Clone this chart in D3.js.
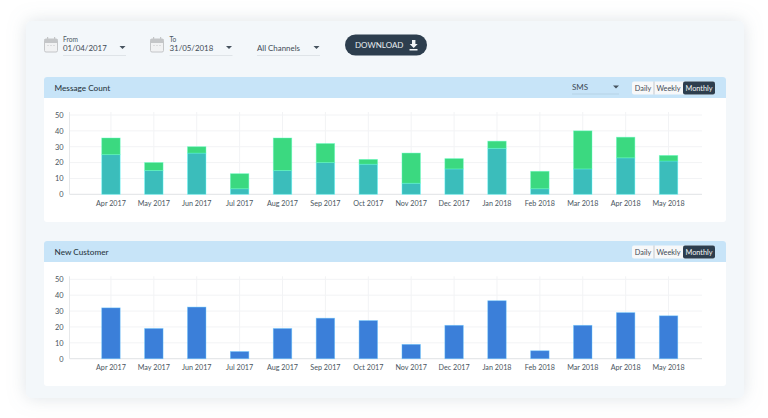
<html>
<head>
<meta charset="utf-8">
<script src="https://cdnjs.cloudflare.com/ajax/libs/d3/7.8.5/d3.min.js"></script>
<style>
  html, body { margin: 0; padding: 0; background: #fff; overflow: hidden; }
  text { font-family: Lato, sans-serif; }
</style>
</head>
<body>
<svg width="768" height="418"></svg>
<script>
const months = ['Apr 2017','May 2017','Jun 2017','Jul 2017','Aug 2017','Sep 2017','Oct 2017','Nov 2017','Dec 2017','Jan 2018','Feb 2018','Mar 2018','Apr 2018','May 2018'];
const messageBase = [25,15,26,3.5,15,20,19,7,16,29,3.5,16,23,21];
const messageTop = [10.5,5,4,9.5,20.5,12,3,19,6.5,4.5,11,24,13,3.5];
const newCustomers = [32,19,32.5,4.5,19,25.5,24,9,21,36.5,5,21,29,27];
const yTicks = [0,10,20,30,40,50];
const rangeLabels = ['Daily','Weekly','Monthly'];

const svg = d3.select('svg');

// card shadow
const defs = svg.append('defs');
const blur = defs.append('filter').attr('id','shadow')
  .attr('x','-10%').attr('y','-10%').attr('width','120%').attr('height','120%');
blur.append('feDropShadow').attr('dx',0).attr('dy',0).attr('stdDeviation',9)
  .attr('flood-color','#8a9aa8').attr('flood-opacity',0.28);

svg.append('rect').attr('x',26).attr('y',21).attr('width',718).attr('height',377).attr('rx',5)
  .attr('fill','#f3f7fa').attr('filter','url(#shadow)');

function calendar(x, y) {
  const g = svg.append('g').attr('transform', `translate(${x},${y})`);
  g.append('rect').attr('x',0.5).attr('y',2).attr('width',13).attr('height',13).attr('rx',1.5)
    .attr('fill','#f1f2f3').attr('stroke','#c4c6c8').attr('stroke-width',1);
  g.append('rect').attr('x',0.5).attr('y',2).attr('width',13).attr('height',4).attr('fill','#c4c6c8');
  g.selectAll('.peg').data([3,10]).join('rect').attr('x',d=>d).attr('y',0).attr('width',1.2).attr('height',3).attr('fill','#c4c6c8');
  g.selectAll('.dot').data([3.5,6.5,9.5]).join('rect').attr('x',d=>d).attr('y',8).attr('width',1).attr('height',1).attr('fill','#c4c6c8');
}

function dropdown(x, label, width, y) {
  svg.append('text').attr('x',x).attr('y',y).attr('font-size',7.9).attr('fill','#3f4a55').text(label);
  svg.append('path').attr('d',`M${x+width-6.5} ${y-5}h6l-3 3z`).attr('fill','#46525e');
  svg.append('line').attr('x1',x).attr('x2',x+width).attr('y1',y+4.5).attr('y2',y+4.5).attr('stroke','#dfe4e8');
}

calendar(44, 37);
svg.append('text').attr('x',63).attr('y',41.5).attr('font-size',6.6).attr('fill','#4a5560').text('From');
dropdown(63, '01/04/2017', 63, 51);
calendar(150, 37);
svg.append('text').attr('x',169.5).attr('y',41.5).attr('font-size',6.6).attr('fill','#4a5560').text('To');
dropdown(169.5, '31/05/2018', 63, 51);
dropdown(257, 'All Channels', 63, 51);

svg.append('rect').attr('x',345).attr('y',34.5).attr('width',82).attr('height',21).attr('rx',10.5).attr('fill','#2d3e4e');
svg.append('text').attr('x',355).attr('y',48).attr('font-size',8).attr('fill','#e8edf1').text('DOWNLOAD');
svg.append('path').attr('d','M412 40h3.4v4h2.3l-4 4-4-4h2.3zM409.5 49h8v1.5h-8z').attr('fill','#f2f5f7');

function rangeButtons(y) {
  const widths = [22, 29, 32], starts = [632, 654, 683];
  svg.append('rect').attr('x',632).attr('y',y).attr('width',83).attr('height',13).attr('rx',2).attr('fill','#f7f8f9');
  svg.append('rect').attr('x',683).attr('y',y).attr('width',32).attr('height',13).attr('rx',2).attr('fill','#2d3e4e');
  svg.append('line').attr('x1',654).attr('x2',654).attr('y1',y).attr('y2',y+13).attr('stroke','#aeb6bc').attr('stroke-width',0.7);
  svg.selectAll(null).data(rangeLabels).join('text')
    .attr('x',(d,i)=>starts[i]+widths[i]/2).attr('y',y+9.3)
    .attr('text-anchor','middle').attr('font-size',7.3)
    .attr('fill',(d,i)=>i==2?'#f2f5f7':'#3f4a55').text(d=>d);
}

function panel(top, bottom, title) {
  svg.append('rect').attr('x',44).attr('y',top).attr('width',682).attr('height',bottom-top).attr('rx',3).attr('fill','#fff');
  svg.append('path').attr('d',`M44 ${top+21}v-18a3 3 0 0 1 3 -3h676a3 3 0 0 1 3 3v18z`).attr('fill','#c7e4f8');
  svg.append('text').attr('x',54.5).attr('y',top+14).attr('font-size',8.2).attr('font-weight',500).attr('fill','#2b3843').text(title);
  rangeButtons(top+4.5);
}

const x = d3.scaleBand().domain(months).range([89.5,690]).paddingInner(0.57).paddingOuter(0.285);

function drawAxes(y) {
  const plot = svg.append('g');
  // horizontal grid
  plot.selectAll('.h').data(yTicks.filter(d=>d>0)).join('line')
    .attr('x1',69.5).attr('x2',702).attr('y1',d=>y(d)).attr('y2',d=>y(d)).attr('stroke','#f2f3f5');
  // vertical grid
  plot.selectAll('.v').data(months).join('line')
    .attr('x1',d=>x(d)+x.bandwidth()/2).attr('x2',d=>x(d)+x.bandwidth()/2)
    .attr('y1',y(50)-3).attr('y2',y(0)).attr('stroke','#f2f3f5');
  plot.append('line').attr('x1',69.5).attr('x2',69.5).attr('y1',y(50)-3).attr('y2',y(0)).attr('stroke','#e6e8ea');
  const bottom = svg.append('g').attr('transform',`translate(0,${y(0)})`)
    .call(d3.axisBottom(x).tickSize(0).tickPadding(6.2));
  bottom.select('.domain').remove();
  bottom.append('line').attr('x1',69.5).attr('x2',702).attr('stroke','#e6e8ea').attr('stroke-width',1.2);
  bottom.selectAll('text').attr('font-size',7.2).attr('fill','#4a5560').style('font-family','Lato, sans-serif');
  const left = svg.append('g').attr('transform','translate(69.5,0)')
    .call(d3.axisLeft(y).tickValues(yTicks).tickSize(0).tickPadding(6));
  left.select('.domain').remove();
  left.selectAll('text').attr('font-size',7.4).attr('fill','#4a5560').style('font-family','Lato, sans-serif');
}

function bars(values, base, y, color) {
  svg.append('g').selectAll('rect').data(values).join('rect')
    .attr('x',(d,i)=>x(months[i])).attr('width',x.bandwidth())
    .attr('y',(d,i)=>y(base[i]+d)).attr('height',d=>y(0)-y(d))
    .attr('fill',color).attr('stroke',d3.color(color).brighter(1.2)).attr('stroke-opacity',0.5).attr('stroke-width',0.8);
}

// message count
panel(77, 222, 'Message Count');
svg.append('text').attr('x',572).attr('y',90).attr('font-size',8).attr('fill','#3f4a55').text('SMS');
svg.append('path').attr('d','M613 85.5h6l-3 3z').attr('fill','#46525e');
svg.append('line').attr('x1',572).attr('x2',619).attr('y1',94).attr('y2',94).attr('stroke','#b6d3e6');
const y1 = d3.scaleLinear().domain([0,50]).range([194.3,115]);
drawAxes(y1);
bars(messageBase, months.map(()=>0), y1, '#3bbdbb');
bars(messageTop, messageBase, y1, '#3bd980');

// new customer
panel(241, 386, 'New Customer');
const y2 = d3.scaleLinear().domain([0,50]).range([358.7,279.3]);
drawAxes(y2);
bars(newCustomers, months.map(()=>0), y2, '#3b7fd9');
</script>
</body>
</html>
